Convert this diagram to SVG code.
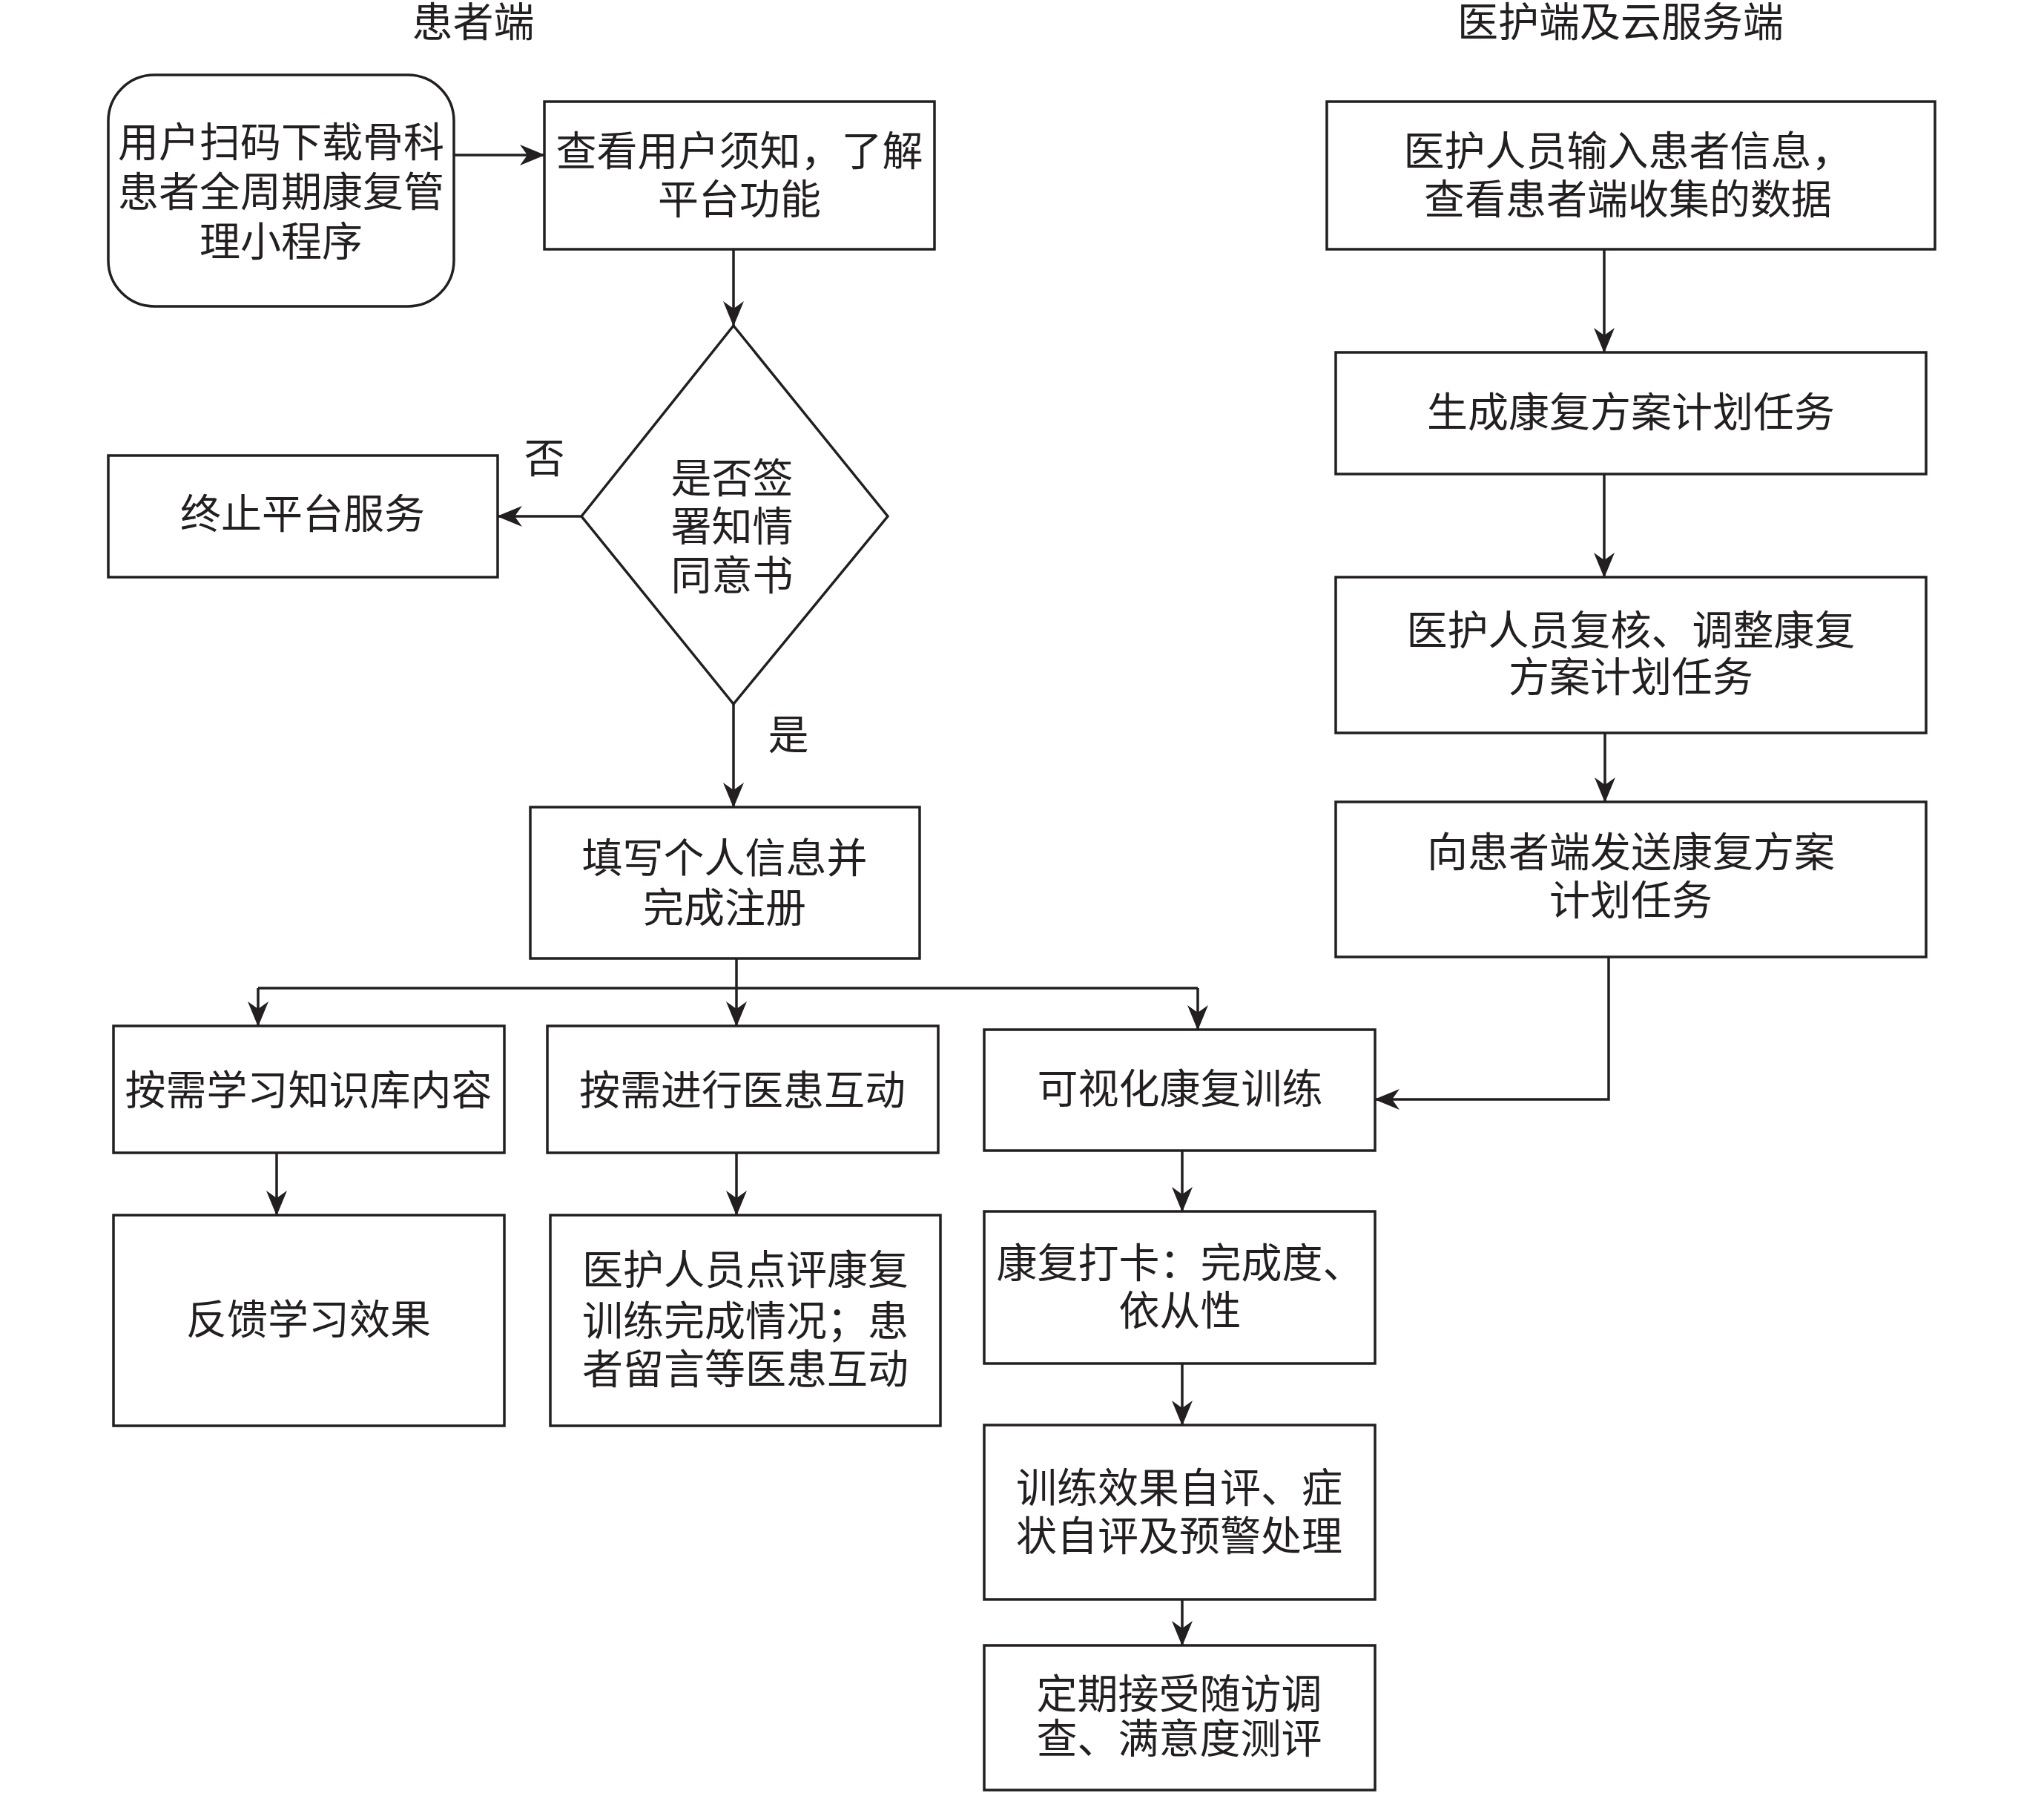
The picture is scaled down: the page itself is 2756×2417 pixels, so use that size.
<svg xmlns="http://www.w3.org/2000/svg" width="2756" height="2417" viewBox="0 0 2756 2417">
<style>
.box{fill:#fff;stroke:#231f20;stroke-width:3.5}
.t{font-family:"Liberation Serif","Noto Sans CJK SC",serif;font-size:55px;fill:#231f20;text-anchor:middle}
.c{fill:none;stroke:#231f20;stroke-width:3.5}
</style>
<defs>
<marker id="ah" markerUnits="userSpaceOnUse" viewBox="0 0 34 28" markerWidth="34" markerHeight="28" refX="33" refY="14" orient="auto">
<path d="M0,0 L34,14 L0,28 L10,14 Z" fill="#231f20"/>
</marker>
</defs>
<rect width="2756" height="2417" fill="#fff"/>
<g id="titles">
<text class="t" x="638" y="49">患者端</text>
<text class="t" x="2185" y="49">医护端及云服务端</text>
</g>
<g id="connectors">
<path class="c" d="M612,209 H734" marker-end="url(#ah)"/>
<path class="c" d="M989,336 V439" marker-end="url(#ah)"/>
<path class="c" d="M784,696 H671" marker-end="url(#ah)"/>
<path class="c" d="M989,949 V1088" marker-end="url(#ah)"/>
<path class="c" d="M993,1292 V1383" marker-end="url(#ah)"/>
<path class="c" d="M348,1332 H1615"/>
<path class="c" d="M348,1332 V1383" marker-end="url(#ah)"/>
<path class="c" d="M1615,1332 V1388" marker-end="url(#ah)"/>
<path class="c" d="M373,1554 V1638" marker-end="url(#ah)"/>
<path class="c" d="M993,1554 V1638" marker-end="url(#ah)"/>
<path class="c" d="M1594,1551 V1633" marker-end="url(#ah)"/>
<path class="c" d="M1594,1838 V1921" marker-end="url(#ah)"/>
<path class="c" d="M1594,2156 V2218" marker-end="url(#ah)"/>
<path class="c" d="M2163,336 V475" marker-end="url(#ah)"/>
<path class="c" d="M2163,639 V778" marker-end="url(#ah)"/>
<path class="c" d="M2164,988 V1081" marker-end="url(#ah)"/>
<path class="c" d="M2169,1290 V1482 H1854" marker-end="url(#ah)"/>
<text class="t" x="734" y="637">否</text>
<text class="t" x="1063" y="1010">是</text>
</g>
<g id="n1">
<rect class="box" x="146" y="101" width="466" height="312" rx="62" ry="62"/>
<text class="t" x="379" y="211">用户扫码下载骨科</text>
<text class="t" x="379" y="278">患者全周期康复管</text>
<text class="t" x="379" y="345">理小程序</text>
</g>
<g id="n2">
<rect class="box" x="734" y="137" width="526" height="199"/>
<text class="t" x="997" y="223">查看用户须知，了解</text>
<text class="t" x="997" y="288">平台功能</text>
</g>
<g id="decision">
<polygon class="box" points="989,439 1197,696 989,949 784,696"/>
<text class="t" x="987" y="664">是否签</text>
<text class="t" x="987" y="729">署知情</text>
<text class="t" x="987" y="795">同意书</text>
</g>
<g id="stop">
<rect class="box" x="146" y="614" width="525" height="164"/>
<text class="t" x="408" y="712">终止平台服务</text>
</g>
<g id="register">
<rect class="box" x="715" y="1088" width="525" height="204"/>
<text class="t" x="977" y="1176">填写个人信息并</text>
<text class="t" x="977" y="1243">完成注册</text>
</g>
<g id="learn">
<rect class="box" x="153" y="1383" width="527" height="171"/>
<text class="t" x="416" y="1489">按需学习知识库内容</text>
</g>
<g id="interact">
<rect class="box" x="738" y="1383" width="527" height="171"/>
<text class="t" x="1001" y="1489">按需进行医患互动</text>
</g>
<g id="visual">
<rect class="box" x="1327" y="1388" width="527" height="163"/>
<text class="t" x="1591" y="1487">可视化康复训练</text>
</g>
<g id="feedback">
<rect class="box" x="153" y="1638" width="527" height="284"/>
<text class="t" x="416" y="1798">反馈学习效果</text>
</g>
<g id="comment">
<rect class="box" x="742" y="1638" width="526" height="284"/>
<text class="t" x="1005" y="1731">医护人员点评康复</text>
<text class="t" x="1005" y="1800">训练完成情况；患</text>
<text class="t" x="1005" y="1865">者留言等医患互动</text>
</g>
<g id="checkin">
<rect class="box" x="1327" y="1633" width="527" height="205"/>
<text class="t" x="1591" y="1722">康复打卡：完成度、</text>
<text class="t" x="1591" y="1786">依从性</text>
</g>
<g id="selfeval">
<rect class="box" x="1327" y="1921" width="527" height="235"/>
<text class="t" x="1590" y="2025">训练效果自评、症</text>
<text class="t" x="1590" y="2090">状自评及预警处理</text>
</g>
<g id="followup">
<rect class="box" x="1327" y="2218" width="527" height="195"/>
<text class="t" x="1590" y="2303">定期接受随访调</text>
<text class="t" x="1590" y="2363">查、满意度测评</text>
</g>
<g id="r1">
<rect class="box" x="1789" y="137" width="820" height="199"/>
<text class="t" x="2195" y="223">医护人员输入患者信息，</text>
<text class="t" x="2195" y="288">查看患者端收集的数据</text>
</g>
<g id="r2">
<rect class="box" x="1801" y="475" width="796" height="164"/>
<text class="t" x="2199" y="575">生成康复方案计划任务</text>
</g>
<g id="r3">
<rect class="box" x="1801" y="778" width="796" height="210"/>
<text class="t" x="2199" y="869">医护人员复核、调整康复</text>
<text class="t" x="2199" y="932">方案计划任务</text>
</g>
<g id="r4">
<rect class="box" x="1801" y="1081" width="796" height="209"/>
<text class="t" x="2199" y="1168">向患者端发送康复方案</text>
<text class="t" x="2199" y="1233">计划任务</text>
</g>
</svg>
